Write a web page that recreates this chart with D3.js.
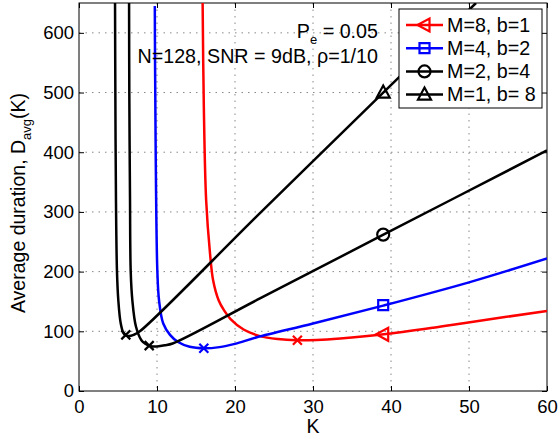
<!DOCTYPE html>
<html>
<head>
<meta charset="utf-8">
<script src="https://cdn.jsdelivr.net/npm/d3@7/dist/d3.min.js"></script>
<style>
body { margin: 0; background: #fff; }
text { font-family: "Liberation Sans", Arial, sans-serif; fill: #000; }
</style>
</head>
<body>
<script>
// values
var kM8 = [15.85, 16.0, 16.3, 16.8, 17.2, 17.9, 18.6, 19.4, 21.1, 23.2, 25.5, 27.9, 30.5, 33.5, 38.8, 45.4, 49.7, 60];
var dM8 = [650, 480, 320, 230, 185, 152, 135, 121, 103, 92, 87, 85, 85.5, 88, 94.5, 106, 114.5, 134];

var kM4 = [9.72, 9.75, 9.83, 10.04, 10.26, 10.8, 11.67, 12.7, 14.2, 16, 18, 20, 22.8, 30, 39, 50, 60];
var dM4 = [645, 550, 403, 203, 152, 113, 94, 82, 74, 71.5, 73.5, 79, 90, 113, 143, 182, 222];

var kM2 = [6.42, 6.45, 6.54, 6.63, 6.84, 7.3, 8.0, 8.5, 9.0, 9.5, 10, 11, 12, 23.2, 38.9, 60];
var dM2 = [650, 500, 320, 200, 152, 108, 85, 79, 75.5, 74.5, 74.5, 76.5, 79.5, 155, 261, 403];

var kM1 = [4.62, 4.66, 4.74, 4.87, 5.04, 5.34, 5.7, 6.0, 6.4, 7.0, 7.8, 23.2, 39, 50.9];
var dM1 = [650, 500, 320, 200, 152, 114, 97, 93, 92, 94, 100, 298, 500, 650];

// optimum points (x marks) and labelled markers at K = 39
var optK = [28, 16, 9, 6];
var optD = [85, 71.5, 76, 94];
var markK = [39, 39, 39, 39];
var markD = [95, 144, 262, 500];

var names = ["M=8, b=1", "M=4, b=2", "M=2, b=4", "M=1, b= 8"];
var colors = ["#ff0000", "#0000ff", "#000000", "#000000"];
var shapes = ["left", "square", "circle", "up"];

var xTicks = [0, 10, 20, 30, 40, 50, 60];
var yTicks = [0, 100, 200, 300, 400, 500, 600];

var width = 558, height = 439;
var margin = {top: 3, right: 11, bottom: 48, left: 79};
var iw = width - margin.left - margin.right;
var ih = height - margin.top - margin.bottom;

var svg = d3.select("body").append("svg")
    .attr("width", width)
    .attr("height", height);

var g = svg.append("g")
    .attr("transform", "translate(" + margin.left + "," + margin.top + ")");

var x = d3.scaleLinear().domain([0, 60]).range([0, iw]);
var y = d3.scaleLinear().domain([0, 650]).range([ih, 0]);

// grid
g.append("g").selectAll("line").data(xTicks.slice(1, -1)).enter().append("line")
    .attr("x1", d => x(d)).attr("x2", d => x(d))
    .attr("y1", 0).attr("y2", ih)
    .attr("stroke", "#888").attr("stroke-width", 1)
    .attr("stroke-dasharray", "1.5,5");
g.append("g").selectAll("line").data(yTicks.slice(1)).enter().append("line")
    .attr("y1", d => y(d)).attr("y2", d => y(d))
    .attr("x1", 0).attr("x2", iw)
    .attr("stroke", "#888").attr("stroke-width", 1)
    .attr("stroke-dasharray", "1.5,5");

// axes
var fs = "18.5px";
g.append("g")
    .attr("transform", "translate(0," + ih + ")")
    .call(d3.axisBottom(x).tickValues(xTicks).tickSizeInner(-5).tickSizeOuter(0).tickPadding(9))
    .call(a => a.select(".domain").remove())
    .selectAll("text").attr("font-size", fs).style("font-family", "Liberation Sans, Arial, sans-serif");
g.append("g")
    .call(d3.axisLeft(y).tickValues(yTicks).tickSizeInner(-5).tickSizeOuter(0).tickPadding(5))
    .call(a => a.select(".domain").remove())
    .selectAll("text").attr("font-size", fs).style("font-family", "Liberation Sans, Arial, sans-serif");
g.append("g")
    .call(d3.axisTop(x).tickValues(xTicks).tickSizeInner(-5).tickSizeOuter(0).tickFormat(""))
    .call(a => a.select(".domain").remove());
g.append("g")
    .attr("transform", "translate(" + iw + ",0)")
    .call(d3.axisRight(y).tickValues(yTicks).tickSizeInner(-5).tickSizeOuter(0).tickFormat(""))
    .call(a => a.select(".domain").remove());

g.append("rect")
    .attr("width", iw).attr("height", ih)
    .attr("fill", "none").attr("stroke", "#000").attr("stroke-width", 1);

// curves
svg.append("defs").append("clipPath").attr("id", "clip")
  .append("rect").attr("width", iw).attr("height", ih);

var series = [[kM8, dM8], [kM4, dM4], [kM2, dM2], [kM1, dM1]];
var line = d3.line()
    .x(d => x(d[0])).y(d => y(d[1]))
    .curve(d3.curveCatmullRom.alpha(0.5));

var plot = g.append("g").attr("clip-path", "url(#clip)");
series.forEach(function(s, i) {
    var pts = s[0].map((k, j) => [k, s[1][j]]);
    plot.append("path")
        .datum(pts)
        .attr("d", line)
        .attr("fill", "none")
        .attr("stroke", colors[i])
        .attr("stroke-width", 2.5);
});

function markerPath(shape) {
    if (shape == "circle") return d3.symbol(d3.symbolCircle, 113)();
    if (shape == "square") return "M-5,-5H5V5H-5Z";
    if (shape == "up") return "M0,-7L6.5,5L-6.5,5Z";
    if (shape == "left") return "M-7,0L5,-6.5L5,6.5Z";
    return "M-4.5,-4.5L4.5,4.5M-4.5,4.5L4.5,-4.5";
}

// x marks at optimum
optK.forEach(function(k, i) {
    plot.append("path")
        .attr("transform", "translate(" + x(k) + "," + y(optD[i]) + ")")
        .attr("d", markerPath("x"))
        .attr("fill", "none").attr("stroke", colors[i]).attr("stroke-width", 2.2);
});
markK.forEach(function(k, i) {
    plot.append("path")
        .attr("transform", "translate(" + x(k) + "," + y(markD[i]) + ")")
        .attr("d", markerPath(shapes[i]))
        .attr("fill", "none").attr("stroke", colors[i]).attr("stroke-width", 2.2);
});

// annotation
var ann1 = svg.append("text").attr("x", 378).attr("y", 38)
    .attr("text-anchor", "end").attr("font-size", "19.7px");
ann1.append("tspan").text("P");
ann1.append("tspan").attr("font-size", "13px").attr("dy", 6).text("e");
ann1.append("tspan").attr("dy", -6).text(" = 0.05");
svg.append("text").attr("x", 378).attr("y", 63)
    .attr("text-anchor", "end").attr("font-size", "19.7px")
    .text("N=128, SNR = 9dB, \u03c1=1/10");

// axis labels
svg.append("text").attr("x", margin.left + x(30)).attr("y", 433)
    .attr("text-anchor", "middle").attr("font-size", "19.5px").text("K");
var yl = svg.append("text")
    .attr("transform", "translate(25,203) rotate(-90)")
    .attr("text-anchor", "middle").attr("font-size", "19.5px");
yl.append("tspan").text("Average duration, D");
yl.append("tspan").attr("font-size", "13px").attr("dy", 6).text("avg");
yl.append("tspan").attr("dy", -6).text("(K)");

// legend
var lg = svg.append("g");
lg.append("rect").attr("x", 399).attr("y", 9).attr("width", 143).attr("height", 99)
    .attr("fill", "#fff").attr("stroke", "#000").attr("stroke-width", 1);
names.forEach(function(n, i) {
    var ly = 25 + i * 23.2;
    lg.append("line").attr("x1", 406).attr("x2", 443).attr("y1", ly).attr("y2", ly)
        .attr("stroke", colors[i]).attr("stroke-width", 2.5);
    lg.append("path").attr("transform", "translate(424.5," + ly + ")")
        .attr("d", markerPath(shapes[i]))
        .attr("fill", "none").attr("stroke", colors[i]).attr("stroke-width", 2.2);
    lg.append("text").attr("x", 447).attr("y", ly).attr("dy", "0.35em")
        .attr("font-size", "19.7px").text(n);
});
</script>
</body>
</html>
